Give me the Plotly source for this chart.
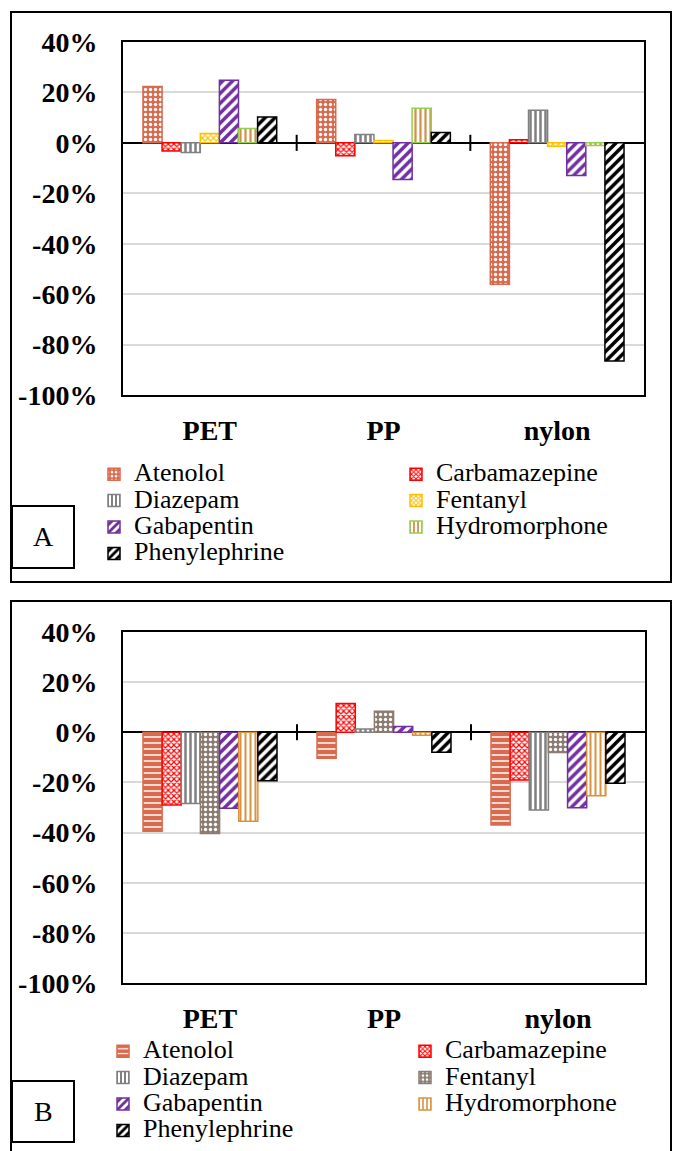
import plotly.graph_objects as go

W, H = 673, 1151

# ---- data -------------------------------------------------------------
materials = ["PET", "PP", "nylon"]
drugs = ["Atenolol", "Carbamazepine", "Diazepam", "Fentanyl",
         "Gabapentin", "Hydromorphone", "Phenylephrine"]

# Panel A: relative change per drug (PET, PP, nylon)
a_atenolol = [0.224, 0.172, -0.561]
a_carbamazepine = [-0.032, -0.051, 0.012]
a_diazepam = [-0.038, 0.033, 0.129]
a_fentanyl = [0.037, 0.009, -0.013]
a_gabapentin = [0.248, -0.145, -0.129]
a_hydromorphone = [0.057, 0.137, -0.010]
a_phenylephrine = [0.103, 0.041, -0.865]

# Panel B: relative change per drug (PET, PP, nylon)
b_atenolol = [-0.395, -0.104, -0.370]
b_carbamazepine = [-0.290, 0.115, -0.190]
b_diazepam = [-0.284, 0.013, -0.310]
b_fentanyl = [-0.404, 0.084, -0.081]
b_gabapentin = [-0.303, 0.023, -0.301]
b_hydromorphone = [-0.355, -0.012, -0.253]
b_phenylephrine = [-0.193, -0.080, -0.203]

y_ticks = [0.4, 0.2, 0.0, -0.2, -0.4, -0.6, -0.8, -1.0]
y_tick_labels = ["40%", "20%", "0%", "-20%", "-40%", "-60%", "-80%", "-100%"]

panel_a = [a_atenolol, a_carbamazepine, a_diazepam, a_fentanyl,
           a_gabapentin, a_hydromorphone, a_phenylephrine]
panel_b = [b_atenolol, b_carbamazepine, b_diazepam, b_fentanyl,
           b_gabapentin, b_hydromorphone, b_phenylephrine]

# ---- styles (line colour, pattern shape, fg, bg, size, solidity) -------
ORANGE = "#DA6A4D"
styles_a = [
    dict(line=ORANGE, shape=".", fg="white", bg=ORANGE, size=5, sol=0.35),
    dict(line="#FF0000", shape="x", fg="#FF0000", bg="white", size=4, sol=0.5),
    dict(line="#808080", shape="|", fg="#808080", bg="white", size=5, sol=0.5),
    dict(line="#FFC000", shape="x", fg="#FFC000", bg="white", size=4, sol=0.5),
    dict(line="#7030A0", shape="/", fg="#7030A0", bg="white", size=7, sol=0.5),
    dict(line="#92D050", shape="|", fg="#D4904A", bg="white", size=5, sol=0.45),
    dict(line="#000000", shape="/", fg="#000000", bg="white", size=7, sol=0.5),
]
styles_b = [
    dict(line=ORANGE, shape="-", fg="white", bg=ORANGE, size=6, sol=0.25),
    dict(line="#FF0000", shape="x", fg="#FF0000", bg="white", size=4, sol=0.5),
    dict(line="#808080", shape="|", fg="#808080", bg="white", size=5, sol=0.5),
    dict(line="#8C7B70", shape=".", fg="white", bg="#8C7B70", size=5, sol=0.35),
    dict(line="#7030A0", shape="/", fg="#7030A0", bg="white", size=7, sol=0.5),
    dict(line="#D9923F", shape="|", fg="#D9923F", bg="white", size=5, sol=0.4),
    dict(line="#000000", shape="/", fg="#000000", bg="white", size=7, sol=0.5),
]

SERIF = "Liberation Serif"
LEGEND_TEXT = '<span style="font-family:Liberation Serif;font-size:26px">{}</span>'


def px_x(p):
    return p / W


def px_y(p):
    return 1 - p / H


fig = go.Figure()

for name, vals, st in zip(drugs, panel_a, styles_a):
    fig.add_trace(go.Bar(
        x=materials, y=vals, name=LEGEND_TEXT.format(name),
        xaxis="x", yaxis="y", legend="legend",
        marker=dict(color=st["bg"], line=dict(color=st["line"], width=1.5),
                    pattern=dict(shape=st["shape"], fgcolor=st["fg"], bgcolor=st["bg"],
                                 fgopacity=1, size=st["size"], solidity=st["sol"])),
    ))

for name, vals, st in zip(drugs, panel_b, styles_b):
    fig.add_trace(go.Bar(
        x=materials, y=vals, name=LEGEND_TEXT.format(name),
        xaxis="x2", yaxis="y2", legend="legend2",
        marker=dict(color=st["bg"], line=dict(color=st["line"], width=1.5),
                    pattern=dict(shape=st["shape"], fgcolor=st["fg"], bgcolor=st["bg"],
                                 fgopacity=1, size=st["size"], solidity=st["sol"])),
    ))

xaxis_common = dict(
    type="category", showline=True, mirror=True, linecolor="black", linewidth=2,
    ticks="", showgrid=False, ticklabelstandoff=9,
    tickfont=dict(family=SERIF, size=28, color="black", weight="bold"),
)
yaxis_common = dict(
    range=[-1.0, 0.4], tickvals=y_ticks, ticktext=y_tick_labels,
    showline=True, mirror=True, linecolor="black", linewidth=2,
    showgrid=True, gridcolor="#D9D9D9", gridwidth=2,
    zeroline=True, zerolinecolor="black", zerolinewidth=2,
    ticks="", ticklabelstandoff=18,
    tickfont=dict(family=SERIF, size=28, color="black", weight="bold"),
)

legend_common = dict(
    orientation="h", xanchor="left", yanchor="top",
    entrywidth=257, entrywidthmode="pixels",
    font=dict(family=SERIF, size=18, color="black"),
    bgcolor="rgba(0,0,0,0)", borderwidth=0,
)

fig.update_layout(
    width=W, height=H, margin=dict(l=0, r=0, t=0, b=0, autoexpand=False),
    paper_bgcolor="white", plot_bgcolor="white",
    barmode="group", bargap=0.23, bargroupgap=0,
    xaxis=dict(domain=[px_x(123), px_x(644)], anchor="y", **xaxis_common),
    yaxis=dict(domain=[px_y(395), px_y(42)], anchor="x", **yaxis_common),
    xaxis2=dict(domain=[px_x(123), px_x(645)], anchor="y2", **xaxis_common),
    yaxis2=dict(domain=[px_y(983), px_y(632)], anchor="x2", **yaxis_common),
    legend=dict(x=px_x(94), y=px_y(456), **legend_common),
    legend2=dict(x=px_x(103), y=px_y(1033), **legend_common),
    showlegend=True,
)

shapes = []
# panel frames
shapes.append(dict(type="rect", xref="paper", yref="paper",
                   x0=px_x(11), x1=px_x(671), y0=px_y(582), y1=px_y(12),
                   line=dict(color="black", width=2)))
shapes.append(dict(type="rect", xref="paper", yref="paper",
                   x0=px_x(11), x1=px_x(671), y0=px_y(1160), y1=px_y(601),
                   line=dict(color="black", width=2)))
# panel label boxes
shapes.append(dict(type="rect", xref="paper", yref="paper",
                   x0=px_x(12), x1=px_x(74), y0=px_y(568), y1=px_y(506),
                   line=dict(color="black", width=2)))
shapes.append(dict(type="rect", xref="paper", yref="paper",
                   x0=px_x(12), x1=px_x(74), y0=px_y(1142), y1=px_y(1081),
                   line=dict(color="black", width=2)))
# category tick marks crossing the zero line
for xr, yr in (("x", "y"), ("x2", "y2")):
    for b in (0.5, 1.5):
        shapes.append(dict(type="line", xref=xr, yref=yr, x0=b, x1=b,
                           y0=-0.032, y1=0.032, line=dict(color="black", width=2)))
fig.update_layout(shapes=shapes)

fig.add_annotation(text="A", xref="paper", yref="paper", x=px_x(43), y=px_y(537),
                   xanchor="center", yanchor="middle", showarrow=False,
                   font=dict(family=SERIF, size=28, color="black"))
fig.add_annotation(text="B", xref="paper", yref="paper", x=px_x(43), y=px_y(1111),
                   xanchor="center", yanchor="middle", showarrow=False,
                   font=dict(family=SERIF, size=28, color="black"))

fig.write_html("out.html")
